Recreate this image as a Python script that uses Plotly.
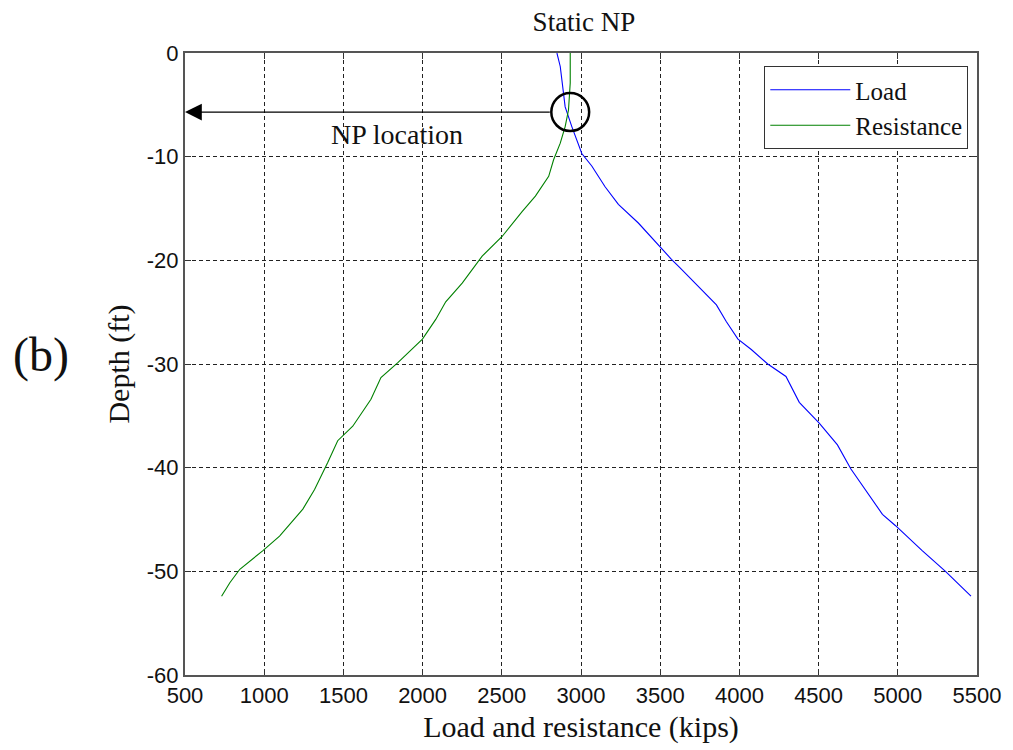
import plotly.graph_objects as go

# Load (blue) curve: load (kips) vs depth (ft)
load_x = [2848, 2869, 2900, 2942, 3005, 3068, 3152, 3236, 3362, 3498, 3571, 3624,
          3739, 3855, 3917, 3991, 4075, 4179, 4294, 4378, 4504, 4619, 4703, 4819,
          4903, 4986, 5154, 5301, 5462]
load_y = [0, -1.3, -5.2, -7.1, -9.7, -10.9, -12.9, -14.6, -16.4, -18.7, -19.9, -20.7,
          -22.5, -24.3, -25.9, -27.6, -28.6, -30.0, -31.2, -33.7, -35.7, -37.8, -40.1, -42.7,
          -44.5, -45.6, -48.0, -50.0, -52.4]

# Resistance (green) curve
res_x = [2932, 2932, 2921, 2900, 2869, 2827, 2796, 2712, 2628, 2502, 2376, 2250,
         2146, 2083, 1999, 1873, 1842, 1737, 1674, 1559, 1464, 1401, 1318, 1244,
         1097, 992, 846, 783, 731]
res_y = [0, -2.9, -5.5, -7.1, -8.7, -10.3, -11.9, -13.8, -15.3, -17.7, -19.6, -22.2,
         -24.0, -25.7, -27.6, -29.4, -29.9, -31.3, -33.4, -36.0, -37.4, -39.5, -42.1, -44.0,
         -46.6, -48.0, -49.8, -51.1, -52.4]

x_ticks = [500, 1000, 1500, 2000, 2500, 3000, 3500, 4000, 4500, 5000, 5500]
y_ticks = [0, -10, -20, -30, -40, -50, -60]

np_x, np_y = 2932, -5.7   # NP location (circle centre)

SERIF = "Liberation Serif"
SANS = "Liberation Sans"

fig = go.Figure()
fig.add_trace(go.Scatter(x=load_x, y=load_y, mode="lines", name="Load",
                         line=dict(color="#0000ff", width=1.1)))
fig.add_trace(go.Scatter(x=res_x, y=res_y, mode="lines", name="Resistance",
                         line=dict(color="#008000", width=1.1)))

axis_common = dict(
    showline=True, linecolor="#555555", linewidth=2, mirror="ticks",
    ticks="inside", ticklen=6, tickcolor="#333333", tickwidth=1,
    showgrid=True, gridcolor="#222222", gridwidth=1, griddash="4px,3px",
    zeroline=False, tickfont=dict(family=SANS, size=22, color="#111111"),
)

fig.update_xaxes(range=[500, 5500], tickvals=x_ticks, ticktext=[str(v) for v in x_ticks],
                 title=dict(text="Load and resistance (kips)", font=dict(family=SERIF, size=30, color="#111"),
                            standoff=9),
                 **axis_common)
fig.update_yaxes(range=[-60, 0], tickvals=y_ticks, ticktext=[str(v) for v in y_ticks],
                 title=dict(text="Depth (ft)", font=dict(family=SERIF, size=30, color="#111"),
                            standoff=8),
                 **axis_common)

# NP circle (pixel-sized radius ~19px)
rx = 19 / 0.159
ry = 19 / 10.383
fig.add_shape(type="circle", xref="x", yref="y",
              x0=np_x - rx, x1=np_x + rx, y0=np_y - ry, y1=np_y + ry,
              line=dict(color="black", width=2.5))

# Arrow from circle to y axis
fig.add_annotation(x=500, y=np_y, ax=np_x - rx, ay=np_y, xref="x", yref="y",
                   axref="x", ayref="y", text="", showarrow=True,
                   arrowhead=2, arrowsize=2.8, arrowwidth=1.2, arrowcolor="black")
fig.add_annotation(x=1840, y=-7.9, xref="x", yref="y", text="NP location",
                   showarrow=False, font=dict(family=SERIF, size=28, color="#111"))

fig.add_annotation(x=(40 - 185) / 795, y=1 - (355 - 53) / 623, xref="paper", yref="paper",
                   text="(b)", showarrow=False, xanchor="center", yanchor="middle",
                   font=dict(family=SERIF, size=48, color="#111"))

fig.update_layout(
    width=1013, height=750,
    margin=dict(l=185, r=33, t=53, b=74),
    paper_bgcolor="white", plot_bgcolor="white",
    title=dict(text="Static NP", x=584 / 1013, xanchor="center", y=1 - 22 / 750, yanchor="middle",
               font=dict(family=SERIF, size=27, color="#111")),
    legend=dict(x=0.989, y=0.979, xanchor="right", yanchor="top",
                bordercolor="#333333", borderwidth=1, bgcolor="white",
                font=dict(family=SERIF, size=25, color="#111"),
                tracegroupgap=0, itemwidth=80),
    showlegend=True,
)

fig.write_html("out.html")
